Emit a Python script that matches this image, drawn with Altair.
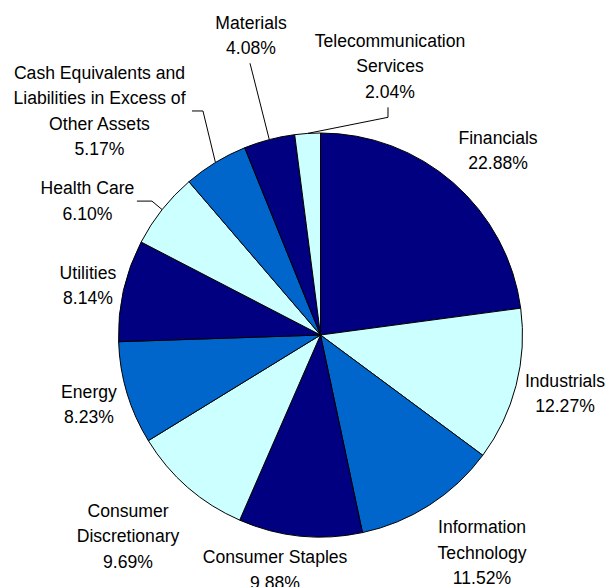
import altair as alt
import pandas as pd

sectors = [
    "Financials", "Industrials", "Information Technology", "Consumer Staples",
    "Consumer Discretionary", "Energy", "Utilities", "Health Care",
    "Cash Equivalents and Liabilities in Excess of Other Assets",
    "Materials", "Telecommunication Services",
]
weights = [22.88, 12.27, 11.52, 9.88, 9.69, 8.23, 8.14, 6.10, 5.17, 4.08, 2.04]
label_lines = [
    ["Financials"], ["Industrials"], ["Information", "Technology"],
    ["Consumer Staples"], ["Consumer", "Discretionary"], ["Energy"],
    ["Utilities"], ["Health Care"],
    ["Cash Equivalents and", "Liabilities in Excess of", "Other Assets"],
    ["Materials"], ["Telecommunication", "Services"],
]
slice_colors = ["#000080", "#CCFFFF", "#0066CC", "#000080", "#CCFFFF", "#0066CC",
                "#000080", "#CCFFFF", "#0066CC", "#000080", "#CCFFFF"]

df = pd.DataFrame({
    "idx": list(range(len(sectors))),
    "sector": sectors,
    "weight": weights,
    "label": ["\n".join(l + [f"{w:.2f}%"]) for l, w in zip(label_lines, weights)],
})

CX, CY, R = 320.5, 335, 202
RL = 250
FONT = "Liberation Sans"
FS = 17.6
LH = 25.5
TEXT_SHIFT = 2

# label nudges (px) from the mid-angle anchor
nudges = {
    "Financials": (12.9, 2.7),
    "Industrials": (2.4, -4.9),
    "Information Technology": (26.4, 6.2),
    "Consumer Staples": (-20.2, -14.7),
    "Consumer Discretionary": (-28.4, 11.4),
    "Energy": (7.9, -3.4),
    "Utilities": (11.3, 4.6),
    "Health Care": (-37.1, 20.3),
    "Cash Equivalents and Liabilities in Excess of Other Assets": (-91, -11.5),
    "Materials": (-6.1, -58.9),
    "Telecommunication Services": (85.5, -20.2),
}
# leader line points relative to label centre (then to the slice edge)
leaders = {
    "Materials": [(-1, 29)],
    "Telecommunication Services": [(-2, 42), (-2, 52)],
    "Cash Equivalents and Liabilities in Excess of Other Assets": [(92.5, 1), (103.5, 1)],
    "Health Care": [(49.5, 1), (64.5, 1)],
}

base = alt.Chart(df)

pie = base.mark_arc(radius=R, stroke="black", strokeWidth=1).encode(
    theta=alt.Theta("weight:Q", stack=True),
    order=alt.Order("idx:Q"),
    color=alt.Color("sector:N", scale=alt.Scale(domain=sectors, range=slice_colors), legend=None),
    x=alt.value(CX),
    y=alt.value(CY),
)

angled = base.transform_joinaggregate(total="sum(weight)").transform_window(
    cum="sum(weight)", sort=[alt.SortField("idx")], frame=[None, 0]
).transform_calculate(
    mid="(datum.cum - datum.weight/2) / datum.total * 2 * PI",
    nl="length(split(datum.label, '\\n'))",
)

layers = [pie]
for s in sectors:
    ndx, ndy = nudges[s]
    sel = angled.transform_filter(alt.datum.sector == s).transform_calculate(
        lx=f"{CX} + {RL}*sin(datum.mid) + {ndx}",
        ly=f"{CY} - {RL}*cos(datum.mid) + {ndy}",
        ex=f"{CX} + {R}*sin(datum.mid)",
        ey=f"{CY} - {R}*cos(datum.mid)",
    ).transform_calculate(
        ty=f"datum.ly - (datum.nl - 1) * {LH} / 2 + {TEXT_SHIFT}"
    )
    layers.append(
        sel.mark_text(font=FONT, fontSize=FS, lineHeight=LH, lineBreak="\n",
                      align="center", baseline="middle", color="black").encode(
            x=alt.X("lx:Q", scale=None, axis=None),
            y=alt.Y("ty:Q", scale=None, axis=None),
            text="label:N",
        )
    )
    if s in leaders:
        pts = [(f"datum.lx + {a}", f"datum.ly + {b}") for a, b in leaders[s]] + [("datum.ex", "datum.ey")]
        for i in range(len(pts) - 1):
            seg = sel.transform_calculate(
                x1=pts[i][0], y1=pts[i][1], x2=pts[i + 1][0], y2=pts[i + 1][1]
            )
            layers.append(
                seg.mark_rule(color="black", strokeWidth=1).encode(
                    x=alt.X("x1:Q", scale=None, axis=None),
                    y=alt.Y("y1:Q", scale=None, axis=None),
                    x2="x2:Q",
                    y2="y2:Q",
                )
            )

chart = alt.layer(*layers).properties(
    width=607, height=587, padding=0, autosize="none", background="white"
).configure_view(stroke=None)

chart.save("out.html", embed_options={"renderer": "svg", "actions": False})
